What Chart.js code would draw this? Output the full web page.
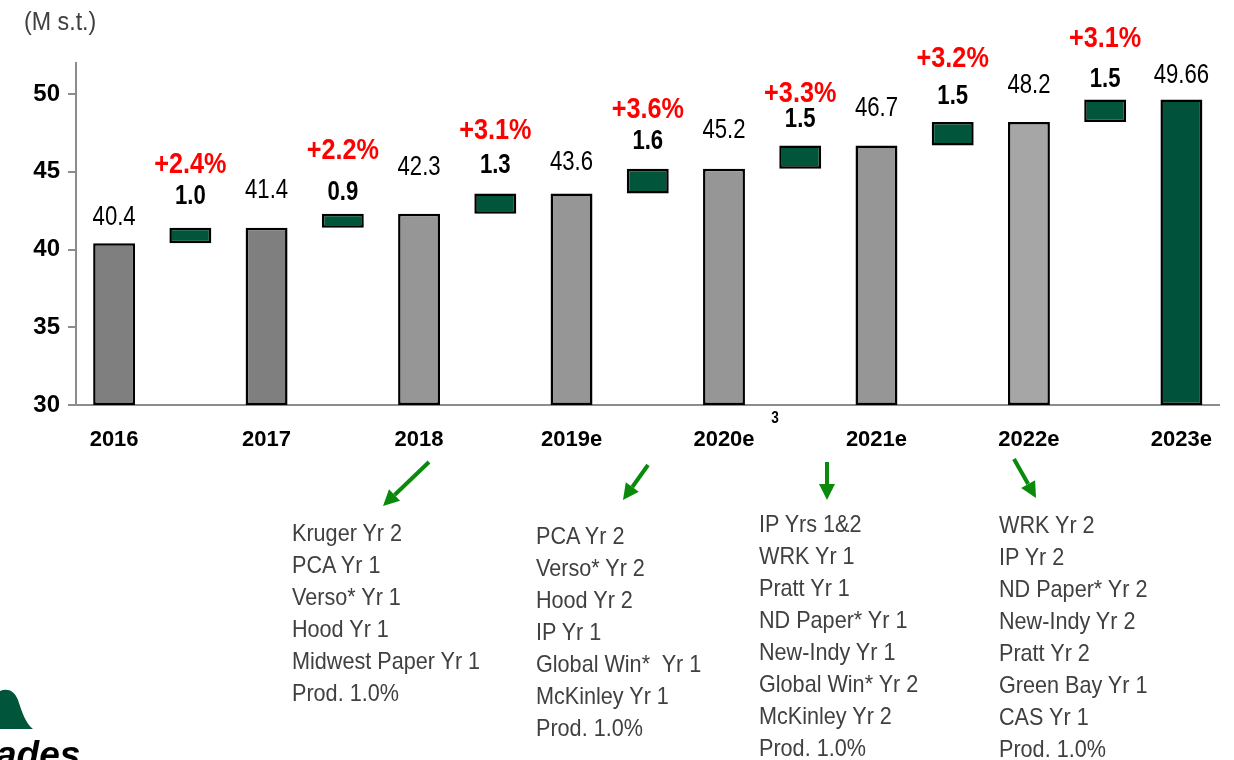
<!DOCTYPE html>
<html>
<head>
<meta charset="utf-8">
<script src="https://cdn.jsdelivr.net/npm/chart.js@4.4.1/dist/chart.umd.min.js"></script>
<style>
  html, body { margin: 0; padding: 0; background: #fff; }
  #wrap { position: relative; width: 1234px; height: 760px; overflow: hidden; }
  #chart { position: absolute; left: 0; top: 0; }
  .unit { position: absolute; left: 24px; top: 7px; font: 25px 'Liberation Sans', sans-serif; color: #404040;
          transform: scaleX(0.93); transform-origin: left top; }
  .note { position: absolute; font: 24px 'Liberation Sans', sans-serif; color: #404040; line-height: 32px; white-space: pre;
          transform: scaleX(0.9); transform-origin: left top; }
</style>
</head>
<body>
<div id="wrap">
  <canvas id="chart" width="1234" height="760"></canvas>
  <div class="unit">(M s.t.)</div>
  <div class="note" id="n1" style="left:292px; top:517px"></div>
  <div class="note" id="n2" style="left:536px; top:520px"></div>
  <div class="note" id="n3" style="left:759px; top:508px"></div>
  <div class="note" id="n4" style="left:999px; top:509px"></div>
</div>
<script>
// données
const years = ['2016', '2017', '2018', '2019e', '2020e', '2021e', '2022e', '2023e'];
const totals = [40.4, 41.4, 42.3, 43.6, 45.2, 46.7, 48.2, 49.66];
const increments = ['1.0', '0.9', '1.3', '1.6', '1.5', '1.5', '1.5'];
const growth = ['+2.4%', '+2.2%', '+3.1%', '+3.6%', '+3.3%', '+3.2%', '+3.1%'];
const yTicks = [30, 35, 40, 45, 50];

const notes2018 = ['Kruger Yr 2', 'PCA Yr 1', 'Verso* Yr 1', 'Hood Yr 1', 'Midwest Paper Yr 1', 'Prod. 1.0%'];
const notes2019 = ['PCA Yr 2', 'Verso* Yr 2', 'Hood Yr 2', 'IP Yr 1', 'Global Win*  Yr 1', 'McKinley Yr 1', 'Prod. 1.0%'];
const notes2020 = ['IP Yrs 1&2', 'WRK Yr 1', 'Pratt Yr 1', 'ND Paper* Yr 1', 'New-Indy Yr 1', 'Global Win* Yr 2', 'McKinley Yr 2', 'Prod. 1.0%'];
const notes2021 = ['WRK Yr 2', 'IP Yr 2', 'ND Paper* Yr 2', 'New-Indy Yr 2', 'Pratt Yr 2', 'Green Bay Yr 1', 'CAS Yr 1', 'Prod. 1.0%'];

// styles
const yearColors = ['#7f7f7f', '#7f7f7f', '#969696', '#969696', '#969696', '#969696', '#a6a6a6', '#00533a'];
const incColor = '#00553b';
const totalLift = [26, 37, 46, 31, 38, 37, 37, 24];
const incLift = [31, 21, 28, 27, 26, 26, 20];
const growthLift = [32, 42, 35, 32, 25, 37, 40];
const FONT = "'Liberation Sans', Arial, sans-serif";

// une barre par année, une barre flottante par variation
const labels = [];
const bars = [];
const colors = [];
years.forEach((y, i) => {
  labels.push(y);
  bars.push([30, totals[i]]);
  colors.push(yearColors[i]);
  if (i < years.length - 1) {
    labels.push('');
    bars.push([totals[i], totals[i + 1]]);
    colors.push(incColor);
  }
});

document.getElementById('n1').textContent = notes2018.join('\n');
document.getElementById('n2').textContent = notes2019.join('\n');
document.getElementById('n3').textContent = notes2020.join('\n');
document.getElementById('n4').textContent = notes2021.join('\n');

// texte "étroit" : on compresse horizontalement
function narrowText(ctx, txt, x, y, sx) {
  ctx.save();
  ctx.translate(x, y);
  ctx.scale(sx, 1);
  ctx.fillText(txt, 0, 0);
  ctx.restore();
}

function arrow(ctx, x1, y1, x2, y2) {
  const a = Math.atan2(y2 - y1, x2 - x1);
  const len = 16, half = 8;
  const bx = x2 - len * Math.cos(a), by = y2 - len * Math.sin(a);
  ctx.strokeStyle = '#0a8a0a';
  ctx.fillStyle = '#0a8a0a';
  ctx.lineWidth = 4;
  ctx.beginPath();
  ctx.moveTo(x1, y1);
  ctx.lineTo(bx, by);
  ctx.stroke();
  ctx.beginPath();
  ctx.moveTo(x2, y2);
  ctx.lineTo(bx + half * Math.sin(a), by - half * Math.cos(a));
  ctx.lineTo(bx - half * Math.sin(a), by + half * Math.cos(a));
  ctx.closePath();
  ctx.fill();
}

const labelPlugin = {
  id: 'labels',
  afterDatasetsDraw(chart) {
    const ctx = chart.ctx;
    const meta = chart.getDatasetMeta(0);
    ctx.save();
    ctx.textAlign = 'center';
    ctx.textBaseline = 'middle';
    meta.data.forEach((bar, i) => {
      const k = Math.floor(i / 2);
      const top = Math.min(bar.y, bar.base);
      if (i % 2 === 0) {
        ctx.fillStyle = '#000';
        ctx.font = '27px ' + FONT;
        narrowText(ctx, String(totals[k]), bar.x, top - totalLift[k], 0.82);
      } else {
        const yv = top - incLift[k];
        ctx.fillStyle = '#000';
        ctx.font = 'bold 27px ' + FONT;
        narrowText(ctx, increments[k], bar.x, yv, 0.82);
        ctx.fillStyle = '#ff0000';
        ctx.font = 'bold 29px ' + FONT;
        narrowText(ctx, growth[k], bar.x, yv - growthLift[k], 0.87);
      }
    });
    // exposant 3 après 2020e
    const xs = chart.scales.x;
    ctx.fillStyle = '#000';
    ctx.font = 'bold 16px ' + FONT;
    narrowText(ctx, '3', xs.getPixelForValue(8) + 51, chart.chartArea.bottom + 14, 0.85);
    ctx.restore();
  },
  afterDraw(chart) {
    const ctx = chart.ctx;
    ctx.save();
    arrow(ctx, 429, 462, 383, 506);
    arrow(ctx, 648, 465, 623, 500);
    arrow(ctx, 827, 462, 827, 500);
    arrow(ctx, 1014, 459, 1036, 498);
    // logo (coupé)
    ctx.fillStyle = '#00553b';
    ctx.beginPath();
    ctx.moveTo(0, 729);
    ctx.lineTo(0, 691);
    ctx.bezierCurveTo(7, 688, 14, 690, 18, 700);
    ctx.bezierCurveTo(22, 712, 26, 724, 33, 729);
    ctx.closePath();
    ctx.fill();
    ctx.fillStyle = '#000';
    ctx.font = 'italic bold 37px ' + FONT;
    ctx.textAlign = 'left';
    ctx.textBaseline = 'alphabetic';
    ctx.fillText('ades', -4, 767);
    ctx.restore();
  }
};

new Chart(document.getElementById('chart'), {
  type: 'bar',
  data: {
    labels: labels,
    datasets: [{
      data: bars,
      backgroundColor: colors,
      borderColor: '#000',
      borderWidth: 2.5,
      borderSkipped: false,
      categoryPercentage: 1,
      barPercentage: 0.55
    }]
  },
  options: {
    responsive: false,
    animation: false,
    layout: { padding: { top: 63, left: 0, right: 0, bottom: 0 } },
    plugins: {
      legend: { display: false },
      tooltip: { enabled: false }
    },
    scales: {
      x: {
        afterFit: s => { s.height = 355; },
        border: { color: '#8c8c8c', width: 2 },
        grid: { display: false, drawTicks: false },
        ticks: {
          autoSkip: false,
          maxRotation: 0,
          padding: 22,
          color: '#000',
          font: { family: FONT, weight: 'bold', size: 22 }
        }
      },
      y: {
        min: 30,
        max: 52,
        afterBuildTicks: s => { s.ticks = yTicks.map(v => ({ value: v })); },
        afterFit: s => { s.width = 76; },
        border: { color: '#8c8c8c', width: 2 },
        grid: { drawOnChartArea: false, tickLength: 8, color: '#8c8c8c', lineWidth: 2 },
        ticks: {
          padding: 8,
          color: '#000',
          font: { family: FONT, weight: 'bold', size: 24 }
        }
      }
    }
  },
  plugins: [labelPlugin]
});
</script>
</body>
</html>
